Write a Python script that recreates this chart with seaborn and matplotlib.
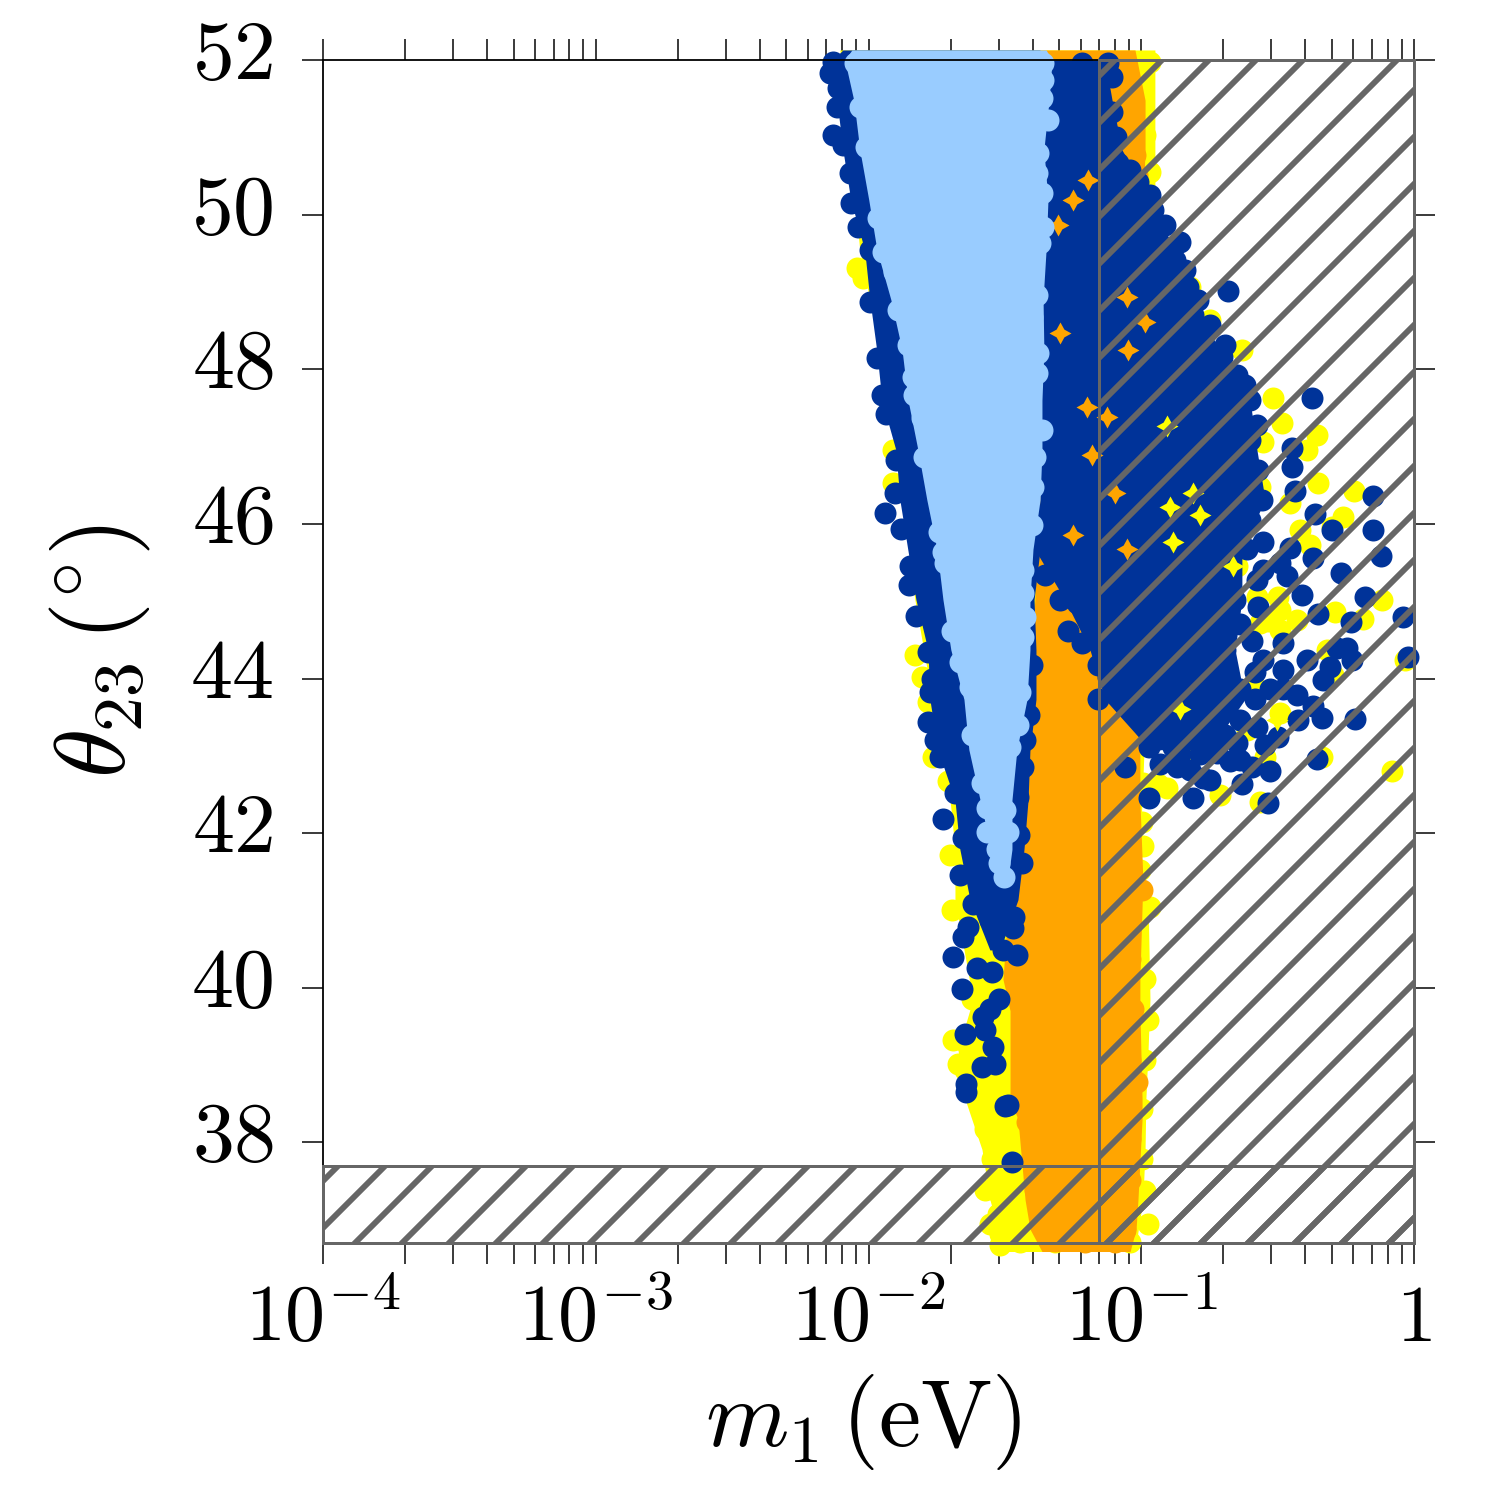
import matplotlib
matplotlib.use("Agg")
import matplotlib.pyplot as plt
import matplotlib.ticker as mticker
from matplotlib.transforms import ScaledTranslation
import numpy as np
import seaborn as sns

sns.set_style("ticks")
DPI = 282  # hatch tile follows the dpi, this gives the wide spacing
plt.rcParams["mathtext.fontset"] = "cm"
plt.rcParams["hatch.linewidth"] = 1.5
plt.rcParams["hatch.color"] = "#666666"
plt.rcParams["text.color"] = "black"
plt.rcParams["axes.labelcolor"] = "black"
plt.rcParams["xtick.labelcolor"] = "black"
plt.rcParams["ytick.labelcolor"] = "black"

YELLOW = "#ffff00"
ORANGE = "#ffa500"
BLUE = "#003399"
LIGHT = "#99ccff"
GRAY = "#666666"

# dense part of each sample: log10(m1) edges read row by row
yellow_theta = [52.13, 49.54, 47.60, 45.02, 42.43, 41.79, 41.14, 39.85, 39.20, 38.56, 37.91, 37.26, 36.59]
yellow_lo = [-2.105, -2.032, -1.921, -1.830, -1.701, -1.683, -1.683, -1.617, -1.672, -1.646, -1.584, -1.555, -1.500]
yellow_hi = [-0.950, -0.950, -0.950, -0.968, -0.997, -1.005, -0.975, -0.968, -0.975, -0.983, -0.986, -0.994, -1.023]

orange_theta = [52.13, 51.48, 50.84, 48.90, 45.02, 42.43, 41.40, 40.11, 39.72, 38.56, 38.30, 37.26, 36.88, 36.59]
orange_lo = [-1.371, -1.371, -1.371, -1.371, -1.390, -1.452, -1.481, -1.507, -1.481, -1.481, -1.452, -1.426, -1.408, -1.364]
orange_hi = [-1.023, -0.986, -0.986, -1.005, -1.005, -1.005, -0.994, -1.005, -1.005, -0.997, -0.997, -1.012, -1.019, -1.041]

blue_a_theta = [52.13, 52.00, 51.48, 50.84, 50.19, 49.54, 48.90, 48.25, 47.60, 46.96, 46.31, 45.67, 45.02, 44.37, 43.73, 43.08, 42.43, 41.79, 41.14, 40.49]
blue_a_lo = [-2.094, -2.131, -2.116, -2.094, -2.065, -2.014, -1.995, -1.970, -1.951, -1.900, -1.885, -1.856, -1.826, -1.782, -1.775, -1.746, -1.683, -1.665, -1.628, -1.555]
blue_a_hi = [-1.371, -1.371, -1.371, -1.371, -1.371, -1.371, -1.371, -1.371, -1.371, -1.371, -1.371, -1.371, -1.393, -1.386, -1.386, -1.408, -1.415, -1.430, -1.452, -1.518]

blue_b_theta = [52.00, 51.48, 50.84, 50.19, 49.54, 48.90, 48.25, 47.60, 46.96, 46.31, 45.67, 45.02, 44.37, 43.73, 43.08]
blue_b_lo = [-1.371, -1.371, -1.371, -1.371, -1.371, -1.371, -1.371, -1.371, -1.371, -1.371, -1.390, -1.280, -1.188, -1.133, -0.968]
blue_b_hi = [-1.133, -1.107, -1.071, -0.968, -0.876, -0.821, -0.711, -0.601, -0.576, -0.546, -0.631, -0.631, -0.656, -0.620, -0.748]

light_theta = [52.13, 52.00, 51.48, 50.84, 50.19, 49.54, 48.90, 48.25, 47.60, 46.96, 46.31, 45.67, 45.02, 44.37, 43.73, 43.08, 42.43, 41.79, 41.40]
light_lo = [-2.061, -2.087, -2.054, -2.032, -1.999, -1.969, -1.918, -1.877, -1.855, -1.819, -1.786, -1.749, -1.727, -1.698, -1.650, -1.632, -1.591, -1.551, -1.518]
light_hi = [-1.349, -1.327, -1.338, -1.357, -1.342, -1.349, -1.360, -1.357, -1.364, -1.364, -1.371, -1.397, -1.408, -1.408, -1.419, -1.456, -1.474, -1.474, -1.489]

# single points on the edges and outside the dense parts
yellow_x = [-0.968, -0.986, -0.968, -0.968, -0.865, -0.821, -0.748, -0.631, -0.730, -0.517, -0.484, -0.356, -0.392, -0.554,
            -0.352, -0.220, -0.260, -0.301, -0.381, -0.418, -0.455, -0.565, -0.649, -0.576, -0.491, -0.429, -0.491, -0.565,
            -0.290, -0.117, -0.187, -0.319, -0.297, -0.033, -0.081, -0.337, -0.583, -0.491, -0.612, -0.546, -0.821, -0.906,
            -0.711, -0.565, -0.939, -0.994, -0.997, -0.994, -0.975, -0.975, -0.986, -0.968,
            -2.042, -2.021, -1.910, -1.910, -1.830, -1.804, -1.782, -1.764, -1.709, -1.701, -1.694, -1.690, -1.672, -1.573, -1.555, -1.518,
            -1.621, -1.657, -1.646, -1.610, -1.573, -1.547, -1.536, -1.525, -1.518, -1.445, -1.316, -1.041,
            -0.986, -0.986, -0.997, -0.997, -1.005, -0.535, -0.498]
yellow_y = [51.97, 51.03, 50.55, 49.93, 49.00, 49.07, 48.64, 48.25, 47.82, 47.63, 47.31, 47.15, 46.96, 47.06,
            46.53, 46.42, 46.09, 45.96, 45.73, 45.92, 46.27, 46.48, 45.45, 45.06, 44.89, 44.76, 44.63, 44.72,
            44.86, 45.02, 44.77, 44.37, 44.05, 44.24, 42.81, 42.99, 43.89, 43.56, 43.34, 42.98, 42.95, 42.59,
            42.49, 42.41, 42.63, 42.65, 42.14, 41.83, 39.59, 36.94, 37.37, 41.04,
            49.31, 49.18, 46.96, 46.53, 44.30, 44.02, 43.70, 42.98, 42.67, 41.72, 41.01, 39.33, 39.01, 37.39, 36.94, 36.68,
            39.85, 39.33, 38.94, 38.62, 38.17, 37.78, 37.39, 37.07, 36.81, 36.71, 36.71, 36.71,
            39.07, 40.11, 38.43, 37.78, 41.53, 44.75, 45.05]

orange_x = [-1.030, -1.023, -0.997, -1.016, -1.419,
            -1.030, -1.041, -1.030, -1.041, -1.041, -1.041, -1.060,
            -1.445, -1.437, -1.437, -1.390, -1.371, -1.316, -1.206, -1.096,
            -1.041, -1.041, -1.023, -1.016]
orange_y = [51.03, 50.19, 41.27, 38.78, 38.26,
            41.40, 40.37, 39.72, 39.07, 38.04, 37.52, 36.87,
            39.78, 39.27, 38.75, 37.39, 36.98, 36.72, 36.71, 36.71,
            51.61, 51.22, 50.77, 50.51]

blue_x = [-2.131, -2.142, -2.112, -2.116, -2.131, -2.094, -2.068, -2.065, -2.039, -1.995, -1.995, -1.969, -1.951, -1.936,
          -1.899, -1.903, -1.940, -1.881, -1.848, -1.852, -1.826, -1.782, -1.767, -1.775, -1.782, -1.757, -1.738, -1.683,
          -1.727, -1.654, -1.665, -1.617, -1.635, -1.654, -1.690, -1.657, -1.602, -1.547, -1.507, -1.456, -1.467, -1.470,
          -1.555, -1.437, -1.522, -1.555, -1.580, -1.646, -1.573, -1.544, -1.584, -1.536, -1.643, -1.643, -1.500, -1.489, -1.474,
          -1.401, -1.412, -1.426, -1.434, -1.452, -1.448,
          -1.217, -1.122, -1.107, -1.107, -1.093, -1.085, -1.012, -0.957, -0.858, -0.913, -0.829, -0.682, -0.810, -0.704,
          -0.741, -0.821, -0.649, -0.741, -0.601, -0.374, -0.576, -0.447, -0.447, -0.436, -0.363, -0.301, -0.150, -0.150,
          -0.121, -0.268, -0.370, -0.455, -0.612, -0.180, -0.411, -0.352, -0.231, -0.040, -0.022, -0.282, -0.227, -0.246,
          -0.308, -0.334, -0.392, -0.480, -0.594, -0.572, -0.554, -0.583, -0.429, -0.370, -0.337, -0.425, -0.216, -0.499,
          -0.546, -0.649, -0.755, -0.722, -0.675, -0.594, -0.528, -0.356, -0.631, -0.535, -0.869, -0.774, -0.748, -0.810,
          -0.972, -1.060, -0.972, -0.884, -0.986, -1.030, -1.159, -1.159, -1.122, -1.217, -1.269, -1.298, -1.236,
          -0.638, -0.601, -0.572, -0.557, -0.601, -0.638, -0.675, -0.656, -0.638, -0.693, -0.638, -0.583, -0.638, -0.693,
          -0.785, -0.858, -0.931, -0.821, -1.041, -0.968, -0.913, -0.876, -0.840, -0.792, -0.748, -0.693, -0.620,
          -1.096, -1.060, -1.005, -0.950, -1.353,
          -0.554, -0.491, -0.466, -0.576, -0.480, -0.528, -0.554, -0.576, -0.638, -0.480]
blue_y = [51.97, 51.83, 51.64, 51.39, 51.03, 50.90, 50.54, 50.15, 49.84, 49.54, 48.87, 48.15, 47.67, 47.42,
          46.83, 46.40, 46.14, 45.94, 45.45, 45.21, 44.81, 44.35, 43.99, 43.82, 43.44, 43.21, 42.99, 42.52,
          42.18, 41.94, 41.46, 41.08, 40.79, 40.66, 40.40, 39.98, 40.26, 40.20, 40.49, 40.43, 40.91, 40.78,
          40.88, 41.61, 39.85, 39.72, 39.62, 39.40, 39.46, 39.24, 38.97, 39.01, 38.75, 38.65, 38.47, 38.48, 37.75,
          44.18, 43.53, 43.21, 42.85, 42.47, 41.98,
          51.96, 51.96, 51.78, 51.33, 51.00, 50.67, 50.42, 50.06, 49.65, 49.57, 49.07, 49.01, 48.70, 48.16,
          48.15, 48.21, 47.93, 47.64, 47.60, 47.63, 47.28, 46.98, 46.74, 46.42, 46.13, 45.92, 46.36, 45.92,
          45.58, 45.37, 45.56, 45.69, 45.67, 45.06, 45.08, 44.84, 44.73, 44.79, 44.28, 44.40, 44.24, 44.40,
          44.15, 43.98, 44.24, 44.46, 44.48, 44.93, 45.76, 44.08, 43.79, 43.64, 43.49, 43.47, 43.48, 43.25,
          43.14, 43.17, 43.18, 43.04, 42.93, 42.86, 42.80, 42.96, 42.63, 42.39, 42.85, 42.72, 42.69, 42.46,
          42.46, 42.85, 43.12, 43.12, 43.38, 43.60, 43.73, 44.18, 44.02, 44.46, 44.61, 45.02, 44.98,
          47.35, 47.09, 46.70, 46.31, 46.05, 45.73, 45.28, 45.02, 44.70, 44.37, 43.86, 43.73, 43.47, 43.27,
          43.02, 43.02, 42.89, 42.82, 50.58, 50.25, 49.87, 49.41, 49.29, 48.90, 48.57, 48.32, 47.80,
          43.86, 43.73, 43.47, 43.21, 45.34,
          45.41, 45.50, 45.32, 45.28, 44.11, 43.86, 44.24, 43.38, 42.95, 43.86]

light_x = [-2.050, -2.032, -2.010, -1.969, -1.966, -1.947, -1.907, -1.892, -1.855, -1.837, -1.833, -1.804, -1.797, -1.742,
           -1.727, -1.720, -1.694, -1.665, -1.628, -1.621, -1.584, -1.566, -1.566, -1.529, -1.522, -1.503,
           -1.360, -1.360, -1.364, -1.342, -1.379, -1.382, -1.364, -1.360, -1.371, -1.382, -1.401, -1.379, -1.382, -1.364,
           -1.390, -1.397, -1.401, -1.434, -1.434, -1.426, -1.434, -1.445, -1.452, -1.481, -1.500, -1.489]
light_y = [51.96, 51.39, 50.88, 50.62, 49.96, 49.52, 49.26, 48.77, 48.32, 47.90, 47.67, 47.37, 46.86, 45.90,
           45.64, 45.50, 44.61, 44.22, 43.89, 43.27, 42.65, 42.33, 42.01, 41.79, 41.61, 41.43,
           51.96, 51.74, 51.51, 51.22, 50.80, 50.54, 50.28, 49.84, 49.63, 48.96, 48.68, 48.21, 47.95, 47.22,
           46.86, 46.48, 45.99, 45.41, 45.11, 44.79, 44.54, 43.83, 43.40, 43.11, 42.30, 42.01]

# lower samples that show through the blue cloud, the gaps between dots are star shaped
orange_gap_x = [-1.052, -1.250, -1.298, -1.199, -1.126, -0.986, -1.195, -1.305, -1.049, -1.096, -1.052, -1.250, -1.181]
orange_gap_y = [48.94, 50.19, 48.47, 47.51, 47.38, 48.61, 50.45, 49.87, 48.25, 46.40, 45.67, 45.86, 46.89]
yellow_gap_x = [-0.906, -0.664, -0.858, -0.884, -0.785, -0.810, -0.895, -0.502]
yellow_gap_y = [47.26, 45.45, 43.60, 45.76, 46.12, 46.40, 46.22, 43.47]

m1_cut = 0.07
theta_cut = 37.7
x_tick_pos = [1e-4, 1e-3, 1e-2, 1e-1, 1]
x_tick_labels = [r"$10^{-4}$", r"$10^{-3}$", r"$10^{-2}$", r"$10^{-1}$", r"$1$"]
y_ticks = [38, 40, 42, 44, 46, 48, 50, 52]


def px(n):
    return n * 72 / DPI


fig = plt.figure(figsize=(1500 / DPI, 1500 / DPI), dpi=DPI)
ax = fig.add_axes([323 / 1500, 257 / 1500, 1091 / 1500, 1183 / 1500])
ax.set_xscale("log")

bands = [
    (yellow_theta, yellow_lo, yellow_hi, YELLOW, 2),
    (orange_theta, orange_lo, orange_hi, ORANGE, 4),
    (blue_a_theta, blue_a_lo, blue_a_hi, BLUE, 6),
    (blue_b_theta, blue_b_lo, blue_b_hi, BLUE, 6),
    (light_theta, light_lo, light_hi, LIGHT, 9),
]
for th, lo, hi, col, z in bands:
    ax.fill_betweenx(th, 10 ** np.array(lo), 10 ** np.array(hi), color=col, lw=0, zorder=z, clip_on=False)

STAR = (4, 1, 0)
dots = [
    (yellow_x, yellow_y, YELLOW, 3, 22, "o"),
    (orange_x, orange_y, ORANGE, 5, 22, "o"),
    (blue_x, blue_y, BLUE, 7, 22, "o"),
    (orange_gap_x, orange_gap_y, ORANGE, 8, 22, STAR),
    (yellow_gap_x, yellow_gap_y, YELLOW, 8, 22, STAR),
    (light_x, light_y, LIGHT, 10, 22, "o"),
]
for xs, ys, col, z, d, mk in dots:
    sns.scatterplot(x=10 ** np.array(xs), y=ys, color=col, s=px(d) ** 2, marker=mk, linewidth=0,
                    zorder=z, clip_on=False, ax=ax)

ax.set_xlim(1e-4, 1)
ax.set_ylim(36.7, 52)

# excluded regions sit on top of the points
ax.axvspan(m1_cut, 1, facecolor="none", edgecolor=GRAY, hatch="//", lw=px(3), zorder=12, clip_on=False)
ax.axhspan(36.7, theta_cut, facecolor="none", edgecolor=GRAY, hatch="//", lw=px(3), zorder=12, clip_on=False)

for s in ax.spines.values():
    s.set_linewidth(px(1.8))
    s.set_color("black")
    s.set_zorder(11)

ax.set_xticks(x_tick_pos)
ax.set_xticklabels(x_tick_labels)
ax.set_yticks(y_ticks)
ax.set_yticklabels([f"${v}$" for v in y_ticks])
ax.xaxis.set_minor_locator(mticker.LogLocator(base=10, subs=np.arange(2, 10), numticks=12))
ax.xaxis.set_minor_formatter(mticker.NullFormatter())
ax.tick_params(axis="both", which="both", direction="out", length=px(21), width=px(1.5), color="black",
               top=True, right=True, bottom=True, left=True)
ax.tick_params(axis="y", which="minor", left=False, right=False)
ax.tick_params(axis="x", which="major", labelsize=px(80), pad=px(16))
ax.tick_params(axis="y", which="major", labelsize=px(84), pad=px(28))

# mathtext sits low on its tick, lift the y labels
for t in ax.get_yticklabels():
    t.set_transform(t.get_transform() + ScaledTranslation(0, 13 / DPI, fig.dpi_scale_trans))

ax.set_xlabel(r"$m_1\,(\mathrm{eV})$", fontsize=px(95), labelpad=px(14))
ax.xaxis.label.set_x(0.5 - 5 / 1091)
ax.set_ylabel(r"$\theta_{23}\,(^{\circ})$", fontsize=px(100), labelpad=px(38))

fig.savefig("out.png", dpi=DPI)
